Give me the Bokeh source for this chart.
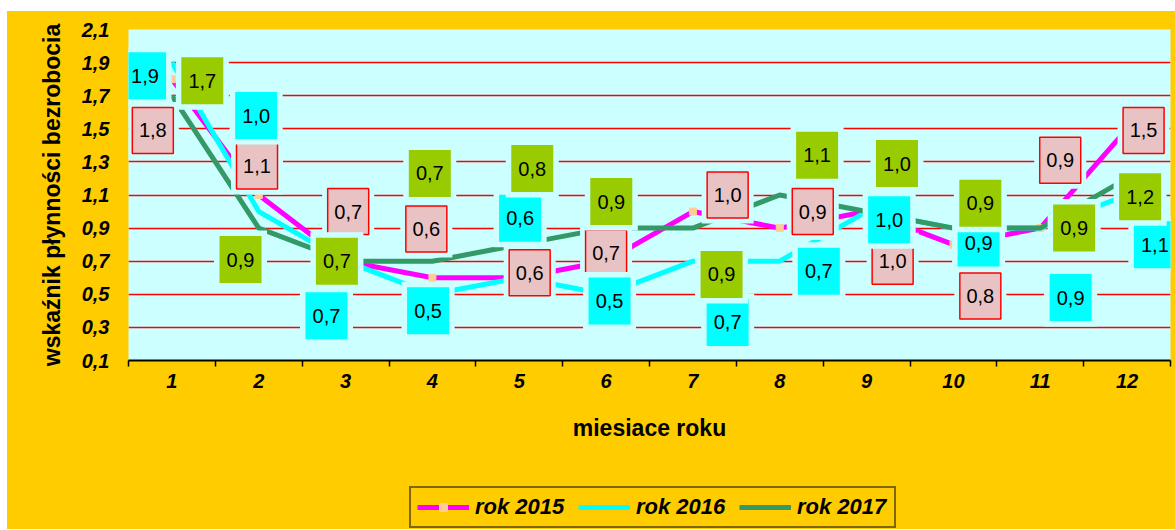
from bokeh.plotting import figure
from bokeh.models import FixedTicker, CustomJSTickFormatter, Legend, LegendItem, Spacer
from bokeh.layouts import column, row
from bokeh.core.properties import value
from bokeh.embed import file_html
from bokeh.resources import INLINE

# ---- data ----
months = list(range(1, 13))
rok_2015 = [1.8, 1.1, 0.7, 0.6, 0.6, 0.7, 1.0, 0.9, 1.0, 0.8, 0.9, 1.5]
rok_2016 = [1.9, 1.0, 0.7, 0.5, 0.6, 0.5, 0.7, 0.7, 1.0, 0.9, 0.9, 1.1]
rok_2017 = [1.7, 0.9, 0.7, 0.7, 0.8, 0.9, 0.9, 1.1, 1.0, 0.9, 0.9, 1.2]
series_names = ["rok 2015", "rok 2016", "rok 2017"]
y_ticks = [0.1, 0.3, 0.5, 0.7, 0.9, 1.1, 1.3, 1.5, 1.7, 1.9, 2.1]
x_title = "miesiace roku"
y_title = "wskaźnik płynności bezrobocia"

# ---- label placement offsets (layout, data units relative to each point) ----
dx_2015 = [-0.22, -0.02, 0.03, -0.07, 0.12, 0.0, 0.40, 0.38, 0.30, 0.31, 0.23, 0.19]
dy_2015 = [-0.31, 0.175, 0.30, 0.295, 0.03, 0.05, 0.10, 0.10, -0.30, -0.31, 0.41, -0.01]
dx_2016 = [-0.31, -0.03, -0.22, -0.05, 0.01, 0.04, 0.40, 0.45, 0.26, 0.29, 0.35, 0.32]
dy_2016 = [-0.08, 0.58, -0.33, -0.10, 0.36, -0.04, -0.37, -0.06, -0.05, -0.09, -0.42, -0.30]
dx_2017 = [0.35, -0.21, -0.10, -0.03, 0.15, 0.06, 0.33, 0.43, 0.35, 0.31, 0.39, 0.15]
dy_2017 = [0.09, -0.19, 0.0, 0.53, 0.46, 0.16, -0.28, 0.24, 0.29, 0.15, 0.0, -0.11]

FONT_NAME = "Liberation Sans"
FONT = value(FONT_NAME)
YELLOW = "#FFCC00"
PLOT_BG = "#CCFFFF"
COLORS = ["#FF00FF", "#00FFFF", "#339966"]
MARKER = "#FFCC99"

W = 1168
p = figure(width=W, height=459, output_backend="svg", toolbar_location=None,
           x_range=(0.5, 12.5), y_range=(0.1, 2.1),
           min_border_left=121, min_border_right=5, min_border_top=18, min_border_bottom=110)
p.border_fill_color = YELLOW
p.background_fill_color = PLOT_BG
p.outline_line_color = None

# grid
p.xgrid.grid_line_color = None
p.ygrid.ticker = FixedTicker(ticks=y_ticks)
p.ygrid.grid_line_color = "#FF0000"
p.ygrid.grid_line_width = 1.5

# y axis
p.yaxis.ticker = FixedTicker(ticks=y_ticks)
p.yaxis.formatter = CustomJSTickFormatter(code="return tick.toFixed(1).replace('.', ',');")
p.yaxis.axis_line_color = None
p.yaxis.major_tick_line_color = None
p.yaxis.minor_tick_line_color = None
p.yaxis.major_tick_in = 0
p.yaxis.major_tick_out = 0
p.yaxis.major_label_standoff = 19
p.yaxis.major_label_text_font = FONT_NAME
p.yaxis.major_label_text_font_style = "bold italic"
p.yaxis.major_label_text_font_size = "20px"
p.yaxis.major_label_text_color = "black"
p.yaxis.axis_label = y_title
p.yaxis.axis_label_text_font = FONT_NAME
p.yaxis.axis_label_text_font_style = "bold"
p.yaxis.axis_label_text_font_size = "23px"
p.yaxis.axis_label_text_color = "black"
p.yaxis.axis_label_standoff = 14

# x axis
p.xaxis.ticker = FixedTicker(ticks=months, minor_ticks=[m - 0.5 for m in months] + [12.5])
p.xaxis.axis_line_color = "black"
p.xaxis.axis_line_width = 2
p.xaxis.major_tick_line_color = None
p.xaxis.major_tick_in = 0
p.xaxis.major_tick_out = 0
p.xaxis.minor_tick_line_color = "black"
p.xaxis.minor_tick_line_width = 1.5
p.xaxis.minor_tick_in = 0
p.xaxis.minor_tick_out = 6
p.xaxis.major_label_standoff = 7
p.xaxis.major_label_text_font = FONT_NAME
p.xaxis.major_label_text_font_style = "bold italic"
p.xaxis.major_label_text_font_size = "20px"
p.xaxis.major_label_text_color = "black"
p.xaxis.axis_label = x_title
p.xaxis.axis_label_text_font = FONT_NAME
p.xaxis.axis_label_text_font_style = "bold"
p.xaxis.axis_label_text_font_size = "23px"
p.xaxis.axis_label_text_color = "black"
p.xaxis.axis_label_standoff = 24

# lines
p.line(months, rok_2015, line_color=COLORS[0], line_width=5)
p.scatter(months, rok_2015, marker="square", size=7, fill_color=MARKER, line_color=MARKER)
p.line(months, rok_2016, line_color=COLORS[1], line_width=5)
p.line(months, rok_2017, line_color=COLORS[2], line_width=5)

# data labels
def fmt(v):
    return f"{v:.1f}".replace(".", ",")

label_specs = [
    (rok_2015, dx_2015, dy_2015, "#E9C3C3", "#FF0000", 1.5, 41, 46),
    (rok_2016, dx_2016, dy_2016, "#00FFFF", None, 0, 42, 47),
    (rok_2017, dx_2017, dy_2017, "#99CC00", None, 0, 42, 47),
]
for vals, dxs, dys, fill, border, bw, w, h in label_specs:
    lx = [m + d for m, d in zip(months, dxs)]
    ly = [v + d for v, d in zip(vals, dys)]
    txt = [fmt(v) for v in vals]
    p.rect(lx, ly, width=w + 11, height=h + 11, width_units="screen", height_units="screen",
           fill_color=PLOT_BG, line_color=None)
    p.rect(lx, ly, width=w, height=h, width_units="screen", height_units="screen",
           fill_color=fill, line_color=border, line_width=bw)
    p.text(lx, ly, text=txt, text_align="center", text_baseline="middle",
           text_font=FONT, text_font_size="20px", text_color="black")

# ---- legend strip (separate figure below the chart) ----
lf = figure(width=W, height=59, output_backend="svg", toolbar_location=None,
            x_range=(-100, -99), y_range=(0, 1),
            min_border_left=121, min_border_right=5, min_border_top=0, min_border_bottom=0)
lf.axis.visible = False
lf.grid.visible = False
lf.outline_line_color = None
lf.border_fill_color = YELLOW
lf.background_fill_color = YELLOW
lf.background_fill_alpha = 0
r15 = lf.line(months, rok_2015, line_color=COLORS[0], line_width=5)
s15 = lf.scatter(months, rok_2015, marker="square", size=8, fill_color=MARKER, line_color=MARKER)
r16 = lf.line(months, rok_2016, line_color=COLORS[1], line_width=5)
r17 = lf.line(months, rok_2017, line_color=COLORS[2], line_width=5)

legend = Legend(items=[
    LegendItem(label=series_names[0], renderers=[r15, s15]),
    LegendItem(label=series_names[1], renderers=[r16]),
    LegendItem(label=series_names[2], renderers=[r17]),
], orientation="horizontal", location=(281, 1))
legend.border_line_color = "black"
legend.border_line_width = 2
legend.background_fill_color = YELLOW
legend.background_fill_alpha = 1
legend.label_text_font = FONT_NAME
legend.label_text_font_style = "bold italic"
legend.label_text_font_size = "22px"
legend.label_text_color = "black"
legend.glyph_width = 52
legend.glyph_height = 20
legend.label_width = 91
legend.label_height = 22
legend.label_standoff = 6
legend.spacing = 12
legend.padding = 6
legend.margin = 0
lf.add_layout(legend, "center")

body = column(p, lf, spacing=0, styles={"background-color": YELLOW})
layout = row(Spacer(width=7, height=10), column(Spacer(height=11, width=W), body, spacing=0), spacing=0)
open("out.html", "w").write(file_html(layout, INLINE))
